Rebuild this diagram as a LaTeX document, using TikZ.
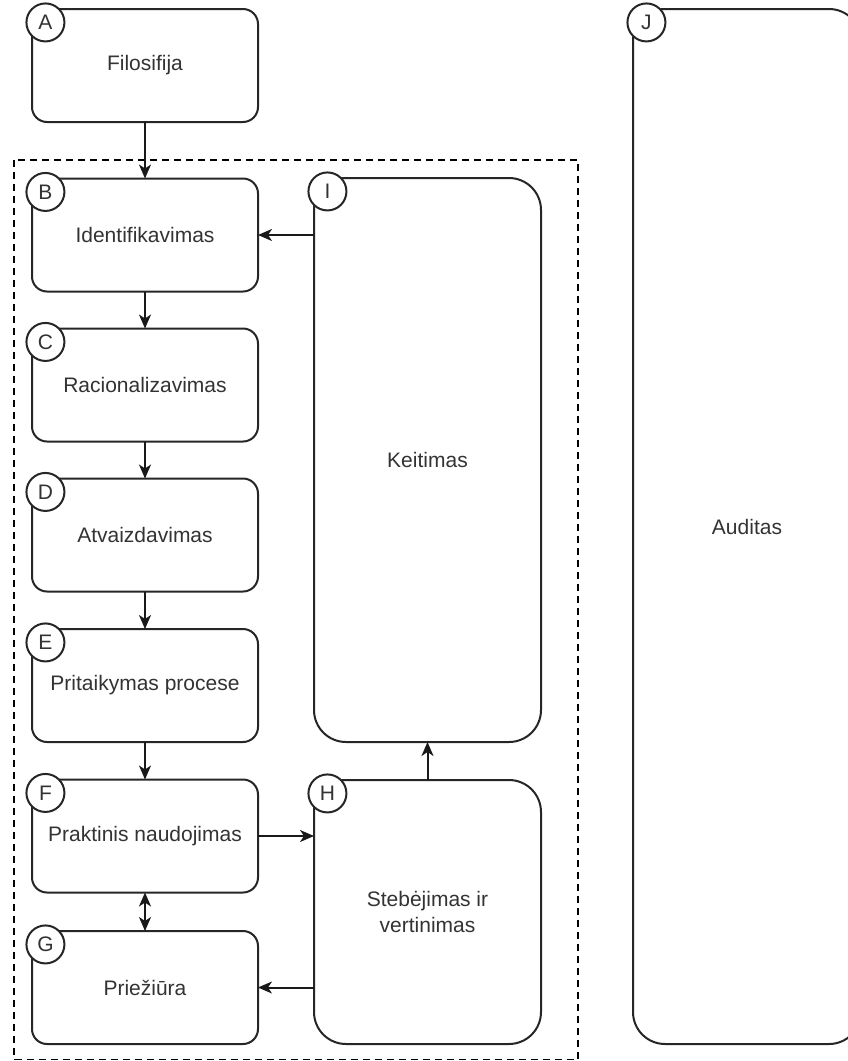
\documentclass[tikz,border=0pt]{standalone}
\usepackage{fontspec}
\setmainfont{Liberation Sans}
\usepackage{tikz}
\usetikzlibrary{arrows.meta,positioning}
\usepackage{xcolor}

\begin{document}
\begin{tikzpicture}[x=0.75pt,y=-0.75pt,
    every node/.style={font=\fontsize{15.75}{20}\selectfont, text=black!80},
    box/.style={draw=black!85, line width=1.5pt, fill=white, rounded corners=11.25pt,
        minimum width=169.5pt, minimum height=84.75pt, align=center, outer sep=0pt},
    bigbox/.style={box, rounded corners=24pt, minimum width=170.25pt},
    tag/.style={circle, draw=black!85, line width=1.5pt, fill=white,
        minimum size=28.5pt, inner sep=0pt, outer sep=0pt, anchor=north west},
    arr/.style={draw=black!90, line width=1.5pt, -{Stealth[length=10.5pt,width=9pt,inset=3pt]}},
    darr/.style={arr, {Stealth[length=10.5pt,width=9pt,inset=3pt]}-{Stealth[length=10.5pt,width=9pt,inset=3pt]}},
    frame/.style={draw=black, line width=1.1pt, dash pattern=on 5.5pt off 3.5pt}]
    \useasboundingbox (0,0) rectangle (848,1061);

    \draw[frame] (14,160) rectangle (578,1059.5);

    % left column
    \foreach \n/\y/\t in {A/65.5/Filosifija, B/235/Identifikavimas, C/385/Racionalizavimas,
        D/535/Atvaizdavimas, E/685.5/Pritaikymas procese, F/836/Praktinis naudojimas,
        G/987.5/Priežiūra} {
        \node[box] (\n) at (145,\y) {\t};
        \node[tag] (\n-tag) at (\n.north west) {\n};
    }

    % right part
    \node[bigbox, minimum height=423pt] (I) at (427.5,460) {Keitimas};
    \node[tag] (I-tag) at (I.north west) {I};
    \node[bigbox, minimum height=198pt] (H) at (427.5,912) {Stebėjimas ir\\vertinimas};
    \node[tag] (H-tag) at (H.north west) {H};
    \node[bigbox, minimum width=171pt, minimum height=776.25pt] (J) at (747,526.5) {Auditas};
    \node[tag] (J-tag) at (J.north west) {J};

    \foreach \a/\b in {A/B, B/C, C/D, D/E, E/F} {
        \draw[arr] (\a) -- (\b);
    }
    \draw[darr] (F) -- (G);
    \draw[arr] (I.west |- B.east) -- (B.east);
    \draw[arr] (F.east) -- (F.east -| H.west);
    \draw[arr] (H.west |- G.east) -- (G.east);
    \draw[arr] (H) -- (I);
\end{tikzpicture}
\end{document}
